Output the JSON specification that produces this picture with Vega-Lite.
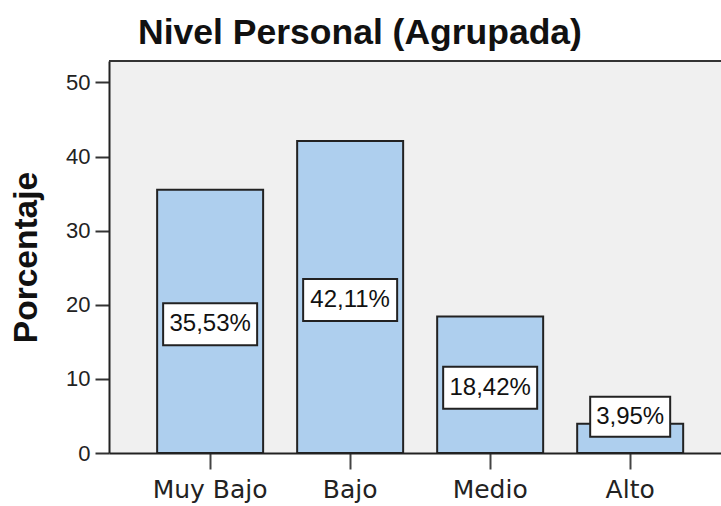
{
  "$schema": "https://vega.github.io/schema/vega-lite/v6.json",
  "width": 612,
  "height": 392,
  "autosize": {"type": "none"},
  "padding": {"left": 109, "top": 61, "right": 0, "bottom": 53},
  "background": "white",
  "title": {
    "text": "Nivel Personal (Agrupada)",
    "font": "Liberation Sans",
    "fontSize": 35.5,
    "fontWeight": "bold",
    "color": "#111111",
    "anchor": "middle",
    "dx": -55,
    "baseline": "alphabetic",
    "offset": -19
  },
  "config": {"view": {"fill": "#f0f0f0", "stroke": null}},
  "data": {
    "values": [
      {"cat": "Muy Bajo", "pct": 35.53, "label": "35,53%"},
      {"cat": "Bajo", "pct": 42.11, "label": "42,11%"},
      {"cat": "Medio", "pct": 18.42, "label": "18,42%"},
      {"cat": "Alto", "pct": 3.95, "label": "3,95%"}
    ]
  },
  "transform": [{"calculate": "max(datum.pct / 2, 5.3)", "as": "lab_y"}],
  "resolve": {"scale": {"y": "shared"}},
  "layer": [
    {
      "mark": {"type": "bar", "fill": "#aecfee", "stroke": "#222222", "strokeWidth": 2},
      "encoding": {
        "x": {
          "field": "cat", "type": "nominal", "sort": null,
          "scale": {"paddingInner": 0.243, "paddingOuter": 0.307, "align": 0.56},
          "axis": {
            "title": null, "labelAngle": 0, "tickSize": 16, "tickWidth": 2, "tickColor": "#444444",
            "domainWidth": 2, "domainColor": "#222222",
            "labelFont": "DejaVu Sans", "labelFontSize": 25, "labelColor": "#222222", "labelPadding": 8
          }
        },
        "y": {
          "field": "pct", "type": "quantitative",
          "scale": {"domain": [0, 52.9], "nice": false},
          "axis": {
            "values": [0, 10, 20, 30, 40, 50], "grid": false,
            "tickSize": 14, "tickWidth": 2, "tickColor": "#333333",
            "domainWidth": 2, "domainColor": "#222222",
            "labelFont": "Liberation Sans", "labelFontSize": 22, "labelColor": "#222222", "labelPadding": 5,
            "title": "Porcentaje", "titleFont": "Liberation Sans", "titleFontSize": 33.5,
            "titleFontWeight": "bold", "titleColor": "#111111", "titlePadding": 22
          }
        }
      }
    },
    {
      "data": {"values": [{}]},
      "mark": {"type": "rule", "stroke": "#333333", "strokeWidth": 2},
      "encoding": {"y": {"datum": 52.9}}
    },
    {
      "mark": {"type": "point", "filled": true, "fill": "white", "stroke": "#222222", "strokeWidth": 2, "opacity": 1, "yOffset": 3},
      "encoding": {
        "x": {"field": "cat", "type": "nominal", "sort": null},
        "y": {"field": "lab_y", "type": "quantitative"},
        "shape": {"condition": {"test": "datum.cat === 'Alto'", "value": "M-1,-0.5H1V0.5H-1Z"}, "value": "M-1,-0.447H1V0.447H-1Z"},
        "size": {"condition": {"test": "datum.cat === 'Alto'", "value": 6400}, "value": 8836}
      }
    },
    {
      "mark": {"type": "text", "font": "Liberation Sans", "fontSize": 24, "color": "#111111", "baseline": "middle", "align": "center", "yOffset": 3},
      "encoding": {
        "x": {"field": "cat", "type": "nominal", "sort": null},
        "y": {"field": "lab_y", "type": "quantitative"},
        "text": {"field": "label"}
      }
    }
  ]
}
